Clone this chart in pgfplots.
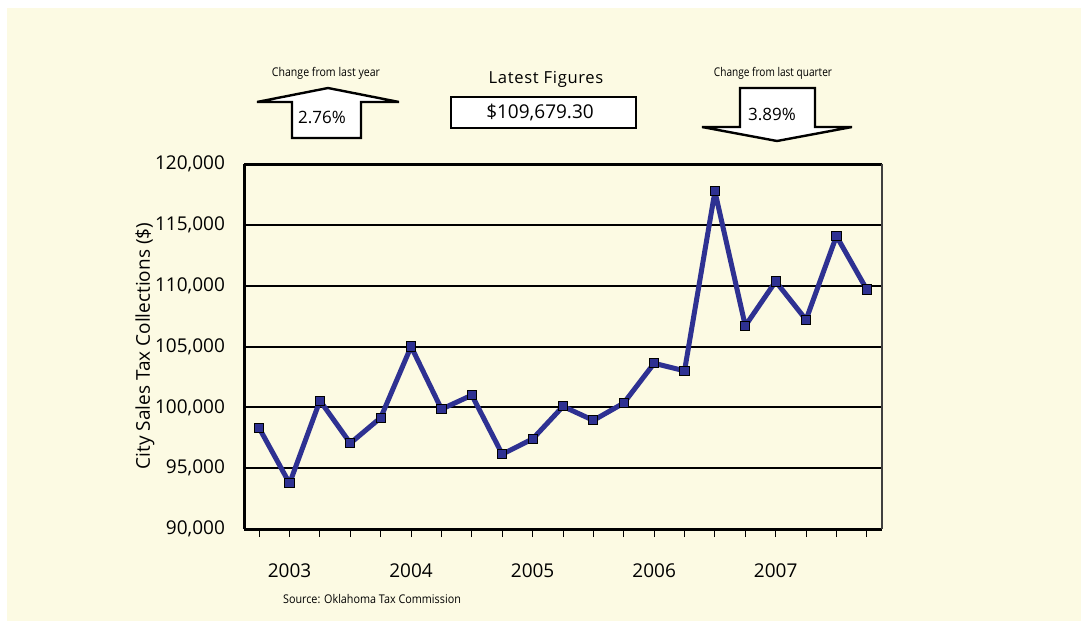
\documentclass[border=0pt]{standalone}
\usepackage{fontspec}
\setmainfont{Open Sans}
\usepackage{pgfplots}
\pgfplotsset{compat=1.18}

\definecolor{cream}{RGB}{252,250,227}
\definecolor{taxblue}{RGB}{46,49,146}

\pgfplotstableread{
q  val
0  98300
1  93750
2  100550
3  97050
4  99150
5  105000
6  99850
7  101000
8  96150
9  97400
10 100080
11 98930
12 100350
13 103620
14 103000
15 117750
16 106700
17 110350
18 107200
19 114080
20 109679
}\collections

\begin{document}
\begin{tikzpicture}
% page and background, in pixel units
\begin{scope}[x=0.5pt,y=-0.5pt]
  \path[use as bounding box] (0,0) rectangle (1081,621);
  \fill[white] (0,0) rectangle (1081,621);
  \fill[cream] (7,8) rectangle (1081,621);
\end{scope}

\begin{axis}[
  at={(122pt,-264.5pt)}, anchor=south west,
  scale only axis, width=319pt, height=182.5pt,
  xmin=-0.5, xmax=20.5, ymin=90000, ymax=120000,
  axis x line*=bottom, axis y line*=left,
  axis line style={line width=1.5pt, -},
  xtick={0,...,20},
  xticklabels={,2003,,,,2004,,,,2005,,,,2006,,,,2007,,,},
  ytick={90000,95000,...,120000},
  scaled y ticks=false,
  /pgf/number format/.cd, fixed, 1000 sep={,}, assume math mode=true,
  /pgfplots/.cd,
  tick align=outside,
  major tick length=4pt,
  xtick style={line width=0.5pt, black},
  ytick style={draw=none},
  ymajorgrids,
  grid style={line width=1pt, black},
  ticklabel style={font=\fontsize{9.5}{11}\selectfont},
  yticklabel style={xshift=-2pt},
  xticklabel style={yshift=-10pt},
  clip=false,
]
\addplot[taxblue, line width=2.5pt, line join=round, mark=square*,
  mark options={fill=taxblue, draw=black, line width=0.5pt, line join=miter}, mark size=2.3pt]
  table[x=q, y=val] {\collections};
\draw[line width=1.5pt] (rel axis cs:0,1) -- (rel axis cs:1,1);
\draw[line width=0.8pt, black!75] (rel axis cs:1,0) -- (rel axis cs:1,1);
\end{axis}

\begin{scope}[x=0.5pt,y=-0.5pt]
  % y label
  \node[rotate=90] at (145,346) {\fontsize{9.5}{11}\selectfont City Sales Tax Collections (\$)};
  % up arrow
  \draw[fill=white, line width=1.2pt, line join=miter]
    (292,138) -- (292,102) -- (257,102) -- (328,88) -- (399,102) -- (361,102) -- (361,138) -- cycle;
  \node at (326,73) {\scalebox{0.88}[1]{\fontsize{6}{7}\selectfont Change from last year}};
  \node at (322,117) {\fontsize{8.5}{10}\selectfont 2.76\%};
  % latest figures
  \node at (546,79) {\fontsize{8.3}{10}\selectfont\addfontfeature{LetterSpace=4} Latest Figures};
  \draw[fill=white, line width=1pt] (451,97) rectangle (636,128);
  \node at (540,113) {\fontsize{9.5}{11}\selectfont \$109,679.30};
  % down arrow
  \draw[fill=white, line width=1.2pt, line join=miter]
    (740,88) -- (815,88) -- (815,127) -- (852,127) -- (777,141) -- (702,127) -- (740,127) -- cycle;
  \node at (773,73) {\scalebox{0.84}[1]{\fontsize{6}{7}\selectfont Change from last quarter}};
  \node at (772,114) {\fontsize{8.5}{10}\selectfont 3.89\%};
  % source
  \node at (372,599) {\scalebox{0.9}[1]{\fontsize{6}{7}\selectfont Source: Oklahoma Tax Commission}};
\end{scope}
\end{tikzpicture}
\end{document}
